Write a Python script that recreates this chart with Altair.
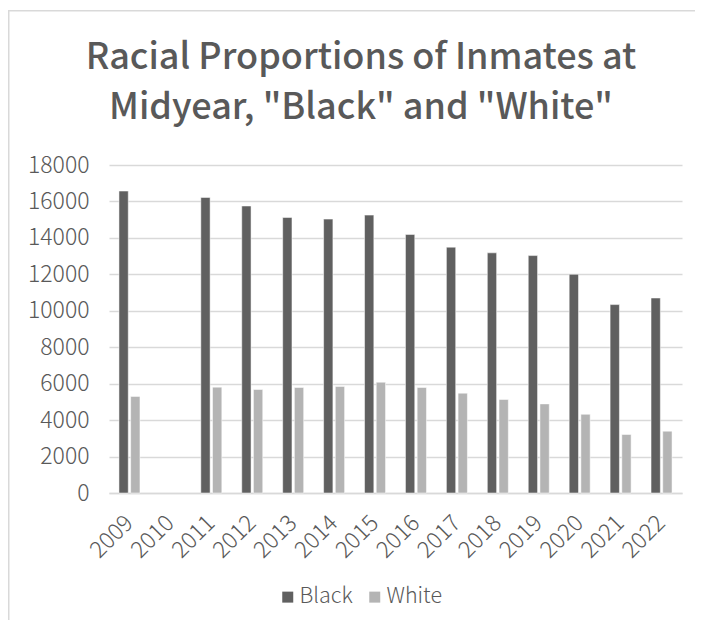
import altair as alt
import pandas as pd

years = ["2009", "2010", "2011", "2012", "2013", "2014", "2015", "2016",
         "2017", "2018", "2019", "2020", "2021", "2022"]
black = [16570, None, 16220, 15750, 15120, 15030, 15250, 14190,
         13490, 13180, 13030, 12000, 10340, 10700]
white = [5300, None, 5810, 5680, 5790, 5850, 6080, 5790,
         5480, 5130, 4890, 4320, 3210, 3390]
series = ["Black", "White"]
colors = ["#606060", "#b4b4b4"]
y_ticks = [0, 2000, 4000, 6000, 8000, 10000, 12000, 14000, 16000, 18000]
title_lines = ["Racial Proportions of Inmates at", 'Midyear, "Black" and "White"']

rows = []
for i, yr in enumerate(years):
    rows.append({"year": yr, "race": "Black", "value": black[i]})
    rows.append({"year": yr, "race": "White", "value": white[i]})
df = pd.DataFrame(rows)

FONT = "Noto Sans CJK SC"
TXT = "#595959"
GRID = "#d9d9d9"

bars = alt.Chart(df).mark_bar(stroke="white", strokeWidth=0.5).encode(
    x=alt.X("year:N", title=None,
            scale=alt.Scale(domain=years, paddingInner=0.487, paddingOuter=0.2435),
            axis=alt.Axis(labelAngle=-45, labelAlign="right", labelBaseline="middle",
                          labelPadding=26, ticks=False, domainColor=GRID,
                          domainWidth=1.5, labelFontSize=23, labelColor=TXT,
                          labelFont=FONT, labelFontWeight=300, grid=False)),
    xOffset=alt.XOffset("race:N",
                        scale=alt.Scale(domain=series, paddingInner=0.205, paddingOuter=0)),
    y=alt.Y("value:Q", title=None,
            scale=alt.Scale(domain=[0, 18000], nice=False),
            axis=alt.Axis(values=y_ticks, domain=False, ticks=False, labelPadding=20,
                          labelFontSize=23, labelColor=TXT, labelFont=FONT,
                          labelFontWeight=300,
                          gridColor=GRID, gridWidth=1.5, format="d")),
    color=alt.Color("race:N", scale=alt.Scale(domain=series, range=colors),
                    legend=alt.Legend(title=None, orient="none", direction="horizontal",
                                      legendX=168, legendY=421, padding=0,
                                      symbolType="square", symbolSize=121,
                                      symbolStrokeWidth=0, labelOffset=1,
                                      columnPadding=11, labelFontSize=21.5,
                                      labelFontWeight=300,
                                      labelColor=TXT, labelFont=FONT)),
)

border_df = pd.DataFrame({"k": [0]})
left_border = alt.Chart(border_df).mark_rect(color=GRID, clip=False).encode(
    x=alt.value(-101), x2=alt.value(-99.5), y=alt.value(-155), y2=alt.value(470))
top_border = alt.Chart(border_df).mark_rect(color=GRID, clip=False).encode(
    x=alt.value(-101), x2=alt.value(600), y=alt.value(-155), y2=alt.value(-153.5))

chart = alt.layer(bars, left_border, top_border).properties(
    width=573, height=328,
    autosize=alt.AutoSizeParams(type="none"),
    padding={"left": 101, "top": 157, "right": 13, "bottom": 127},
    title=alt.TitleParams(title_lines, fontSize=36, font=FONT, color=TXT,
                          fontWeight=500, lineHeight=50, anchor="middle",
                          dx=-34.5, offset=-117),
).configure_view(stroke=None)

chart.save("out.html", embed_options={"renderer": "svg", "actions": False})
